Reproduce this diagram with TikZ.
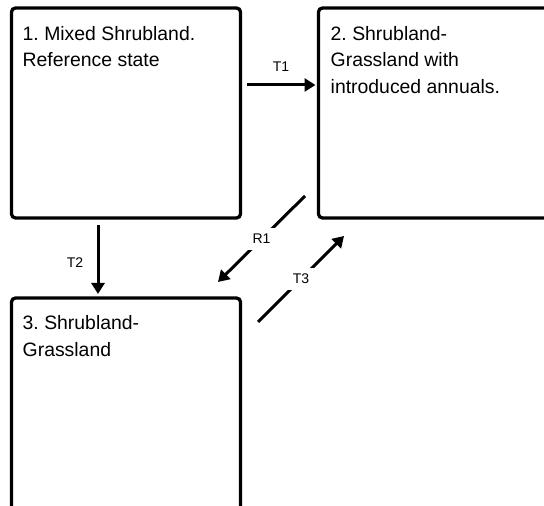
\documentclass[tikz,border=0pt]{standalone}
\usepackage{fontspec}
\setmainfont{Liberation Sans}
\usetikzlibrary{arrows.meta,calc}
\frenchspacing
\begin{document}
\begin{tikzpicture}[x=1pt,y=1pt,
  state/.style={draw, line width=3.3pt, rounded corners=4pt, outer sep=0pt, inner sep=0pt, anchor=north west},
  stxt/.style={anchor=north west, inner sep=0pt, font=\fontsize{19.4}{26.7}\selectfont, align=left},
  arr/.style={line width=3pt, -{Triangle[length=11pt,width=13pt]}},
  lbl/.style={font=\fontsize{14}{16}\selectfont, inner sep=2pt},
  onlbl/.style={lbl, fill=white, inner sep=6pt}]
\useasboundingbox (0,0) rectangle (544,506);
\clip (0,0) rectangle (544,506);
\node[state, minimum width=229pt, minimum height=210pt] (b1) at (11.5,498) {};
\node[state, minimum width=250pt, minimum height=210pt] (b2) at (318.5,498) {};
\node[state, minimum width=229pt, minimum height=240pt] (b3) at (11.5,208) {};
\node[stxt] (s1) at ($(b1.north west)+(11,-18)$) {1. Mixed Shrubland.\\Reference state};
\node[stxt] (s2) at ($(b2.north west)+(12,-18)$) {2. Shrubland-\\Grassland with\\introduced annuals.};
\node[stxt] (s3) at ($(b3.north west)+(11,-17.5)$) {3. Shrubland-\\Grassland};
% T1
\coordinate (t1s) at (247,421);
\draw[arr, shorten >=3pt] (t1s) -- (t1s -| b2.west);
\node[lbl] (lt1) at (281,439) {T1};
% T2
\coordinate (t2s) at (98,281);
\draw[arr, shorten >=4pt] (t2s) -- (t2s |- b3.north);
\node[lbl] (lt2) at (75,243) {T2};
% R1
\coordinate (r1s) at (305,310);
\coordinate (r1e) at (218,224);
\draw[arr] (r1s) -- node[onlbl] (lr1) {R1} (r1e);
% T3
\coordinate (t3s) at (258,184);
\coordinate (t3e) at (344,270);
\draw[arr] (t3s) -- node[onlbl] (lt3) {T3} (t3e);
\end{tikzpicture}
\end{document}
